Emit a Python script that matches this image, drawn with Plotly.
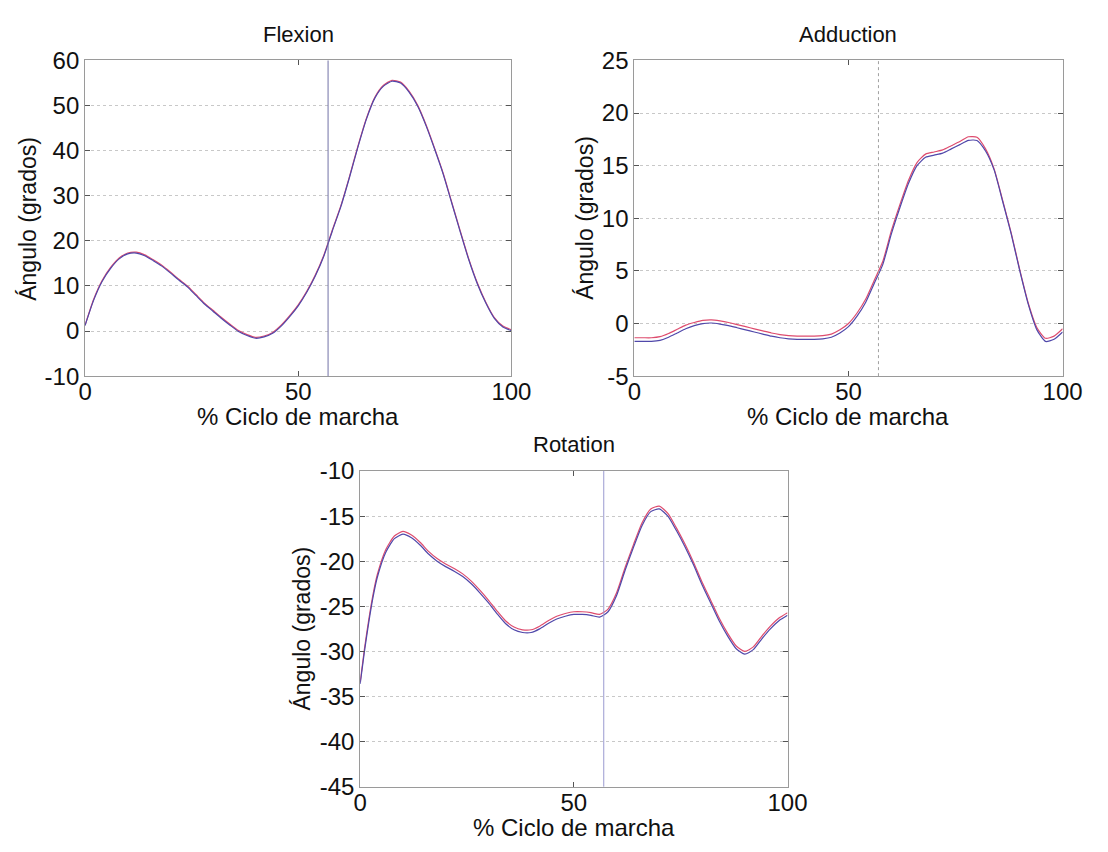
import plotly.graph_objects as go

# ---------------- data ----------------
pct = [0, 2, 4, 6, 8, 10, 12, 14, 16, 18, 20, 22, 24, 26, 28, 30, 32, 34, 36, 38, 40,
       42, 44, 46, 48, 50, 52, 54, 56, 58, 60, 62, 64, 66, 68, 70, 72, 74, 76, 78, 80,
       82, 84, 86, 88, 90, 92, 94, 96, 98, 100]

flex_blue = [1.2, 6.8, 11.0, 13.9, 16.0, 17.1, 17.3, 16.7, 15.6, 14.4, 12.9, 11.3, 9.8,
             7.9, 6.0, 4.4, 2.8, 1.3, -0.1, -1.0, -1.6, -1.3, -0.5, 1.1, 3.2, 5.6, 8.6,
             12.2, 16.6, 22.2, 27.6, 34.0, 40.8, 47.0, 51.7, 54.3, 55.4, 55.0, 53.0, 49.9,
             45.5, 40.3, 34.8, 28.4, 22.0, 15.8, 10.5, 6.2, 2.8, 0.9, 0.1]
flex_red = [1.3, 7.0, 11.2, 14.1, 16.2, 17.3, 17.5, 16.9, 15.8, 14.6, 13.1, 11.5, 10.0,
            8.1, 6.2, 4.6, 3.0, 1.5, 0.1, -0.8, -1.4, -1.1, -0.3, 1.3, 3.4, 5.8, 8.8,
            12.4, 16.8, 22.4, 27.8, 34.2, 41.0, 47.2, 51.9, 54.5, 55.6, 55.2, 53.2, 50.1,
            45.7, 40.5, 35.0, 28.6, 22.2, 16.0, 10.7, 6.4, 3.0, 1.1, 0.3]

add_blue = [-1.7, -1.7, -1.7, -1.6, -1.3, -0.9, -0.5, -0.2, 0.0, 0.05, -0.05, -0.2, -0.4,
            -0.6, -0.8, -1.0, -1.2, -1.35, -1.45, -1.5, -1.5, -1.5, -1.45, -1.3, -0.9,
            -0.3, 0.7, 2.0, 3.8, 5.6, 8.5, 11.0, 13.3, 15.0, 15.8, 16.0, 16.2, 16.6, 17.0,
            17.4, 17.4, 16.4, 14.6, 11.6, 8.5, 5.0, 1.8, -0.6, -1.7, -1.5, -0.8]
add_red = [-1.35, -1.35, -1.35, -1.25, -0.95, -0.55, -0.15, 0.1, 0.3, 0.35, 0.25, 0.1,
           -0.1, -0.3, -0.5, -0.7, -0.9, -1.05, -1.15, -1.2, -1.2, -1.2, -1.15, -1.0,
           -0.6, 0.0, 1.0, 2.3, 4.1, 5.9, 8.8, 11.3, 13.6, 15.3, 16.1, 16.3, 16.5, 16.9,
           17.3, 17.75, 17.7, 16.6, 14.7, 11.7, 8.6, 5.1, 1.9, -0.4, -1.4, -1.2, -0.5]

rot_pct = [0, 1, 2, 3, 4, 6, 8, 10, 12, 14, 16, 18, 20, 22, 24, 26, 28, 30, 32, 34, 36,
           38, 40, 42, 44, 46, 48, 50, 52, 54, 56, 58, 60, 62, 64, 66, 68, 70, 72, 74,
           76, 78, 80, 82, 84, 86, 88, 90, 92, 94, 96, 98, 100]
rot_blue = [-33.6, -30.0, -26.8, -24.0, -21.8, -19.0, -17.5, -17.0, -17.4, -18.2, -19.2,
            -20.0, -20.6, -21.1, -21.7, -22.5, -23.5, -24.6, -25.8, -26.9, -27.6, -27.9,
            -27.9, -27.5, -26.9, -26.4, -26.1, -25.9, -25.9, -26.0, -26.2, -25.6, -23.8,
            -21.0, -18.4, -16.0, -14.5, -14.2, -15.0, -16.6, -18.4, -20.4, -22.6, -24.6,
            -26.6, -28.3, -29.7, -30.3, -29.8, -28.6, -27.5, -26.6, -26.0]
rot_red = [-33.4, -29.7, -26.5, -23.7, -21.5, -18.7, -17.2, -16.7, -17.1, -17.9, -18.9,
           -19.7, -20.3, -20.8, -21.4, -22.2, -23.2, -24.3, -25.5, -26.6, -27.3, -27.6,
           -27.6, -27.2, -26.6, -26.1, -25.8, -25.6, -25.6, -25.7, -25.9, -25.3, -23.5,
           -20.7, -18.1, -15.7, -14.2, -13.9, -14.7, -16.3, -18.1, -20.1, -22.3, -24.3,
           -26.3, -28.0, -29.4, -30.0, -29.5, -28.3, -27.2, -26.3, -25.7]

toe_off = 57  # % of gait cycle (vertical marker)

panel_titles = ["Flexion", "Adduction", "Rotation"]
x_title = "% Ciclo de marcha"
y_title = "Ángulo (grados)"
x_ticks = [0, 50, 100]
flex_ticks = [-10, 0, 10, 20, 30, 40, 50, 60]
add_ticks = [-5, 0, 5, 10, 15, 20, 25]
rot_ticks = [-45, -40, -35, -30, -25, -20, -15, -10]

# ---------------- layout geometry ----------------
W, H = 1108, 852
RED = "#de4c6e"
BLUE = "#5048aa"
FONT = "Liberation Sans, Arial, sans-serif"
TXT = "#111111"

# pixel boxes: (left, right, top, bottom)
boxes = [(80, 517, 48, 374), (643, 1082, 48, 374), (362, 800, 472, 798)]
ytitle_offsets = [58, 50, 60]


def xdom(b):
    return [b[0] / W, b[1] / W]


def ydom(b):
    return [1 - b[3] / H, 1 - b[2] / H]


fig = go.Figure()

series = [(pct, flex_red, flex_blue), (pct, add_red, add_blue), (rot_pct, rot_red, rot_blue)]
for i, (xs, r, bl) in enumerate(series):
    xa = "x" if i == 0 else f"x{i+1}"
    ya = "y" if i == 0 else f"y{i+1}"
    fig.add_trace(go.Scatter(x=xs, y=r, mode="lines",
                             line=dict(color=RED, width=1.2, shape="spline", smoothing=0.6),
                             xaxis=xa, yaxis=ya, showlegend=False, hoverinfo="skip"))
    fig.add_trace(go.Scatter(x=xs, y=bl, mode="lines",
                             line=dict(color=BLUE, width=1.2, shape="spline", smoothing=0.6),
                             xaxis=xa, yaxis=ya, showlegend=False, hoverinfo="skip"))

yticks_all = [flex_ticks, add_ticks, rot_ticks]
vline_styles = [dict(color="#7272a6", width=1, dash="solid"),
                dict(color="#a0a0a0", width=1, dash="dot"),
                dict(color="#9a9ad0", width=1, dash="solid")]

layout = dict(width=W, height=H, margin=dict(l=0, r=0, t=0, b=0),
              paper_bgcolor="white", plot_bgcolor="white",
              font=dict(family=FONT, color=TXT))

annotations = []
shapes = []
for i, b in enumerate(boxes):
    sx = "" if i == 0 else str(i + 1)
    yt = yticks_all[i]
    layout["xaxis" + sx] = dict(domain=xdom(b), anchor="y" + sx, range=[0, 100],
                                tickvals=x_ticks, ticktext=[str(v) for v in x_ticks],
                                showgrid=False, zeroline=False, showline=True, mirror="ticks",
                                linecolor="#9a9a9a", linewidth=1, ticks="inside", ticklen=5,
                                ticklabelstandoff=-6,
                                tickcolor="#555555", tickfont=dict(size=24, family=FONT, color=TXT))
    layout["yaxis" + sx] = dict(domain=ydom(b), anchor="x" + sx, range=[yt[0], yt[-1]],
                                tickvals=yt, ticktext=[str(v) for v in yt],
                                showgrid=True, gridcolor="#c8c8c8", griddash="dot", gridwidth=1,
                                zeroline=False, showline=True, mirror="ticks",
                                linecolor="#9a9a9a", linewidth=1, ticks="inside", ticklen=5,
                                tickcolor="#555555", tickfont=dict(size=24, family=FONT, color=TXT))
    cx = (b[0] + b[1]) / 2 / W
    cy = 1 - (b[2] + b[3]) / 2 / H
    annotations.append(dict(text=panel_titles[i], x=cx, y=1 - (b[2] - 27) / H, xref="paper", yref="paper",
                            showarrow=False, xanchor="center", yanchor="middle",
                            font=dict(size=22, family=FONT, color=TXT)))
    annotations.append(dict(text=x_title, x=cx, y=1 - (b[3] + 42) / H, xref="paper", yref="paper",
                            showarrow=False, xanchor="center", yanchor="middle",
                            font=dict(size=24, family=FONT, color=TXT)))
    annotations.append(dict(text=y_title, x=(b[0] - ytitle_offsets[i]) / W, y=cy, xref="paper", yref="paper",
                            showarrow=False, xanchor="center", yanchor="middle", textangle=-90,
                            font=dict(size=23, family=FONT, color=TXT)))
    shapes.append(dict(type="line", xref="x" + sx, yref="y" + sx + " domain", x0=toe_off, x1=toe_off,
                       y0=0, y1=1, line=vline_styles[i], layer="above"))

layout["annotations"] = annotations
layout["shapes"] = shapes
fig.update_layout(**layout)

fig.write_html("out.html")
